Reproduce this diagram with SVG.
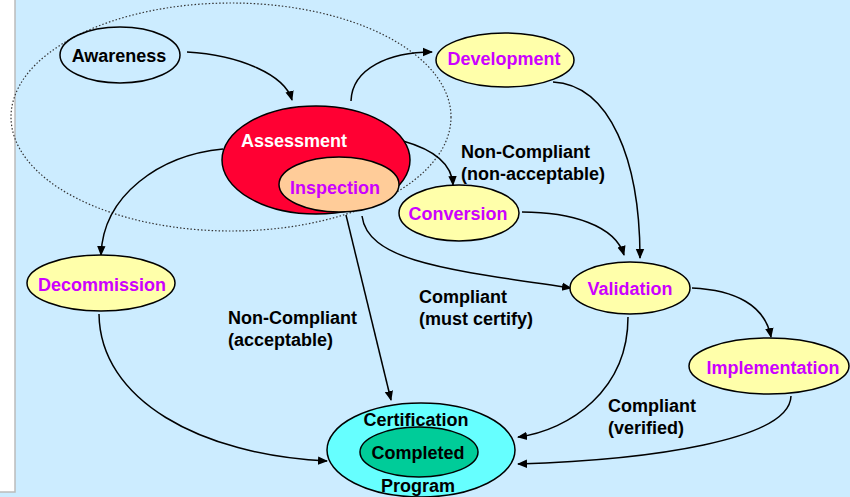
<svg xmlns="http://www.w3.org/2000/svg" width="850" height="497" viewBox="0 0 850 497">
  <defs>
    <marker id="arrow" markerUnits="userSpaceOnUse" markerWidth="10" markerHeight="10" viewBox="0 0 10 10" refX="9" refY="5" orient="auto">
      <path d="M0,0.8 L10,5 L0,9.2 Z" fill="#000"/>
    </marker>
    <style>
      text { font-family: "Liberation Sans", Arial, sans-serif; font-weight: bold; font-size: 18px; }
      .node { stroke: #000; stroke-width: 1.5; }
      .step { fill: #FFFFAA; }
      .step-label { fill: #CC00FF; text-anchor: middle; }
      .dark-label { fill: #000; text-anchor: middle; }
      .edge { fill: none; stroke: #000; stroke-width: 1.5; marker-end: url(#arrow); }
      .edge-label { fill: #000; }
    </style>
  </defs>

  <!-- page background -->
  <rect x="0" y="0" width="850" height="497" fill="#CCECFF"/>
  <rect x="-2" y="-2" width="17" height="494" fill="#FFFFFF" stroke="#BBBBBB" stroke-width="1.5"/>

  <!-- dotted scope boundary -->
  <ellipse cx="231" cy="117" rx="220" ry="114" fill="none" stroke="#333" stroke-width="1.2" stroke-dasharray="1.5,2"/>

  <!-- connectors -->
  <g id="connectors">
    <path class="edge" d="M187,52 C240,55 285,75 292,100"/>
    <path class="edge" d="M351,101 C352,68 390,52 432,52"/>
    <path class="edge" d="M403,141 C435,150 452,165 453,185"/>
    <path class="edge" d="M223,149 C160,155 103,195 101,255"/>
    <path class="edge" d="M553,82 C610,85 640,160 640,258"/>
    <path class="edge" d="M522,212 C570,212 615,225 624,255"/>
    <path class="edge" d="M362,216 C368,262 450,270 571,288"/>
    <path class="edge" d="M346,215 L391,400"/>
    <path class="edge" d="M99,314 C100,400 200,455 327,461"/>
    <path class="edge" d="M628,317 C628,390 570,430 518,437"/>
    <path class="edge" d="M791,396 C790,440 650,460 518,464"/>
    <path class="edge" d="M692,288 C735,290 765,305 771,337"/>
  </g>

  <!-- connector labels -->
  <g id="edge-labels">
    <text class="edge-label" x="461" y="158">Non-Compliant</text>
    <text class="edge-label" x="461" y="180">(non-acceptable)</text>
    <text class="edge-label" x="228" y="324">Non-Compliant</text>
    <text class="edge-label" x="228" y="346">(acceptable)</text>
    <text class="edge-label" x="419" y="303">Compliant</text>
    <text class="edge-label" x="419" y="325">(must certify)</text>
    <text class="edge-label" x="608" y="412">Compliant</text>
    <text class="edge-label" x="608" y="434">(verified)</text>
  </g>

  <g id="awareness">
    <ellipse class="node" cx="120" cy="55" rx="60" ry="28" fill="none"/>
    <text class="dark-label" x="119" y="62">Awareness</text>
  </g>

  <g id="assessment">
    <ellipse class="node" cx="316" cy="160" rx="94" ry="54" fill="#FF0033"/>
    <text x="294" y="147" fill="#FFFFFF" text-anchor="middle">Assessment</text>
  </g>

  <g id="inspection">
    <ellipse class="node" cx="339" cy="184.5" rx="60" ry="27.5" fill="#FFCC99"/>
    <text class="step-label" x="335" y="194">Inspection</text>
  </g>

  <g id="development">
    <ellipse class="node step" cx="505" cy="60" rx="69" ry="27"/>
    <text class="step-label" x="504" y="65">Development</text>
  </g>

  <g id="conversion">
    <ellipse class="node step" cx="459" cy="213" rx="60" ry="28"/>
    <text class="step-label" x="458" y="220">Conversion</text>
  </g>

  <g id="validation">
    <ellipse class="node step" cx="630" cy="288" rx="60" ry="26"/>
    <text class="step-label" x="630" y="295">Validation</text>
  </g>

  <g id="implementation">
    <ellipse class="node step" cx="769" cy="366" rx="80" ry="28"/>
    <text class="step-label" x="773" y="374">Implementation</text>
  </g>

  <g id="decommission">
    <ellipse class="node step" cx="101" cy="283" rx="74" ry="28"/>
    <text class="step-label" x="102" y="291">Decommission</text>
  </g>

  <g id="certification">
    <ellipse class="node" cx="421" cy="450" rx="94" ry="47" fill="#66FFFF"/>
    <text class="dark-label" x="416" y="426">Certification</text>
    <text class="dark-label" x="418" y="492">Program</text>
  </g>

  <g id="completed">
    <ellipse class="node" cx="419" cy="452" rx="59" ry="25" fill="#00CC99"/>
    <text class="dark-label" x="418" y="459">Completed</text>
  </g>
</svg>
